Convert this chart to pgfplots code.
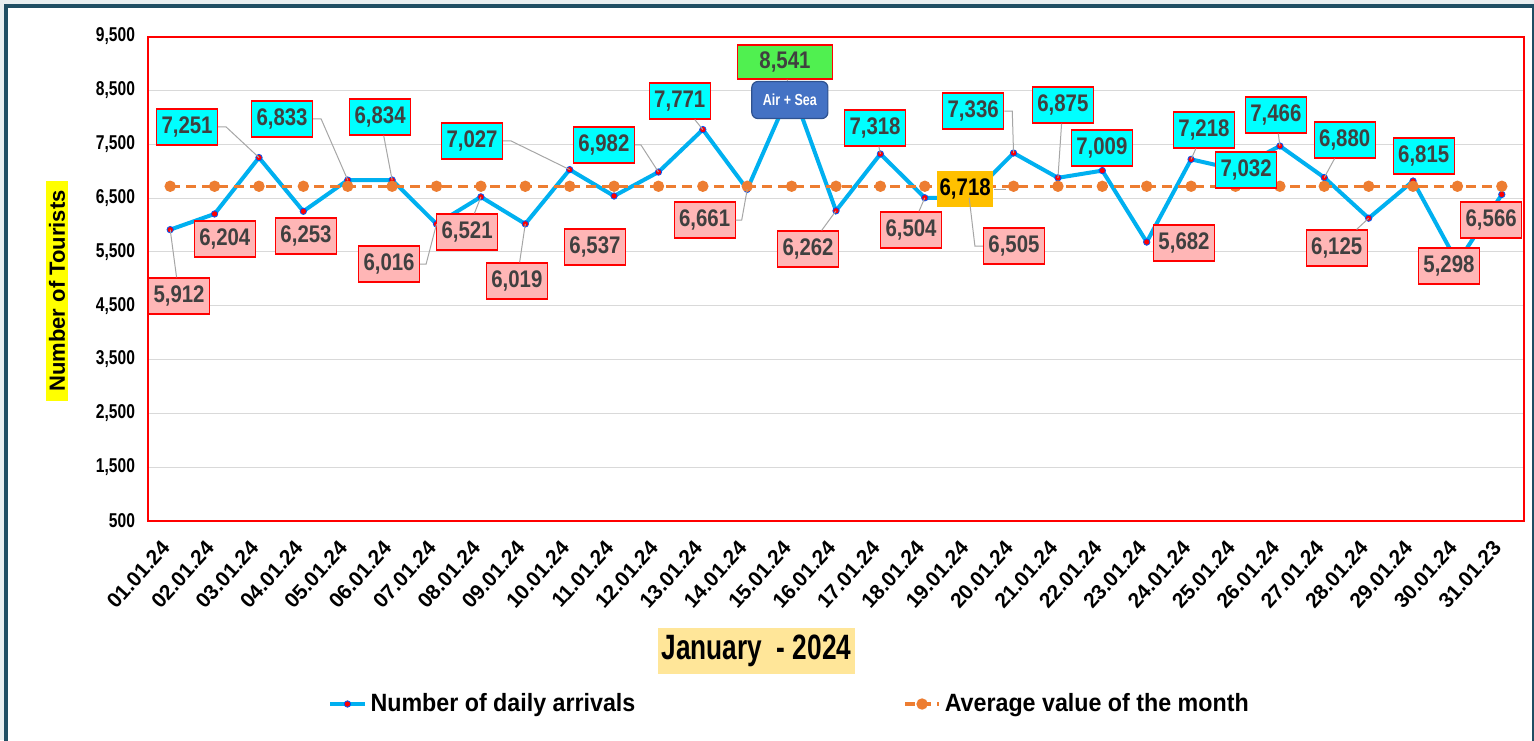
\documentclass[border=0pt]{standalone}
\usepackage{fontspec}
\setmainfont{Liberation Sans}
\newfontfamily\nA{Liberation Sans}[FakeStretch=0.78]
\newfontfamily\nB{Liberation Sans}[FakeStretch=0.85]
\newfontfamily\nC{Liberation Sans}[FakeStretch=0.93]
\newfontfamily\nD{Liberation Sans}[FakeStretch=0.745]
\usepackage{pgfplots}
\pgfplotsset{compat=1.18}

\definecolor{frame}{RGB}{31,78,99}
\definecolor{bgout}{RGB}{232,238,240}
\definecolor{arr}{RGB}{0,176,240}
\definecolor{avgc}{RGB}{237,125,49}
\definecolor{cy}{RGB}{0,255,255}
\definecolor{pk}{RGB}{255,182,182}
\definecolor{gr}{RGB}{80,240,80}
\definecolor{as}{RGB}{68,114,196}
\definecolor{asb}{RGB}{47,82,143}
\definecolor{yl}{RGB}{255,255,0}
\definecolor{ttl}{RGB}{255,230,153}
\definecolor{avglab}{RGB}{255,192,0}
\definecolor{txt}{RGB}{64,64,64}
\definecolor{gridc}{RGB}{217,217,217}
\definecolor{leadc}{RGB}{166,166,166}

\begin{document}
\begin{tikzpicture}[
  lab/.style={draw=red, line width=0.6pt, text=txt, font=\nB\bfseries\fontsize{12}{14}\selectfont,
              minimum width=30.5pt, minimum height=18pt, inner sep=1pt},
  hi/.style={lab, fill=cy},
  lo/.style={lab, fill=pk},
  leader/.style={draw=leadc, line width=0.5pt}
]
\useasboundingbox (0,0) rectangle (767pt,370pt);
\fill[bgout] (0,0) rectangle (767pt,370pt);
\draw[frame, line width=2pt, fill=white] (3pt,-5pt) rectangle (767pt,367pt);

\begin{axis}[
  at={(74pt,109.5pt)}, anchor=south west,
  scale only axis, width=688pt, height=242.25pt,
  xmin=-0.5, xmax=30.5, ymin=500, ymax=9500,
  ytick={500,1500,...,9500},
  xtick={0,...,30},
  xticklabels={01.01.24,02.01.24,03.01.24,04.01.24,05.01.24,06.01.24,07.01.24,08.01.24,09.01.24,10.01.24,11.01.24,12.01.24,13.01.24,14.01.24,15.01.24,16.01.24,17.01.24,18.01.24,19.01.24,20.01.24,21.01.24,22.01.24,23.01.24,24.01.24,25.01.24,26.01.24,27.01.24,28.01.24,29.01.24,30.01.24,31.01.23},
  major tick length=0pt,
  ymajorgrids, grid style={gridc, line width=0.5pt},
  axis line style={red, line width=1pt},
  clip=false,
  scaled y ticks=false,
  yticklabel style={font=\nA\bfseries\fontsize{10}{12}\selectfont, /pgf/number format/assume math mode=true, /pgf/number format/1000 sep={,}, xshift=-3pt},
  xticklabel style={font=\bfseries\fontsize{10.5}{12}\selectfont, rotate=48, anchor=east},
  xticklabel shift=9pt,
  legend style={at={(0.467,-0.3777)}, anchor=center, draw=none, fill=none,
     legend columns=2, font=\nC\bfseries\fontsize{12.5}{14}\selectfont,
     /tikz/column 2/.style={column sep=132pt}},
]
\addplot[arr, line width=2pt, mark=*, mark size=1.6pt, mark options={fill=red, draw=blue!50!arr, line width=0.4pt}] coordinates {
(0,5912) (1,6204) (2,7251) (3,6253) (4,6833) (5,6834) (6,6016) (7,6521) (8,6019) (9,7027)
(10,6537) (11,6982) (12,7771) (13,6661) (14,8541) (15,6262) (16,7318) (17,6504) (18,6505) (19,7336)
(20,6875) (21,7009) (22,5682) (23,7218) (24,7032) (25,7466) (26,6880) (27,6125) (28,6815) (29,5298) (30,6566)};
\addplot[avgc, line width=1.6pt, dash pattern=on 5pt off 3pt, mark=*, mark size=2pt, mark options={solid, fill=avgc, draw=avgc}] coordinates {
(0,6718) (1,6718) (2,6718) (3,6718) (4,6718) (5,6718) (6,6718) (7,6718) (8,6718) (9,6718)
(10,6718) (11,6718) (12,6718) (13,6718) (14,6718) (15,6718) (16,6718) (17,6718) (18,6718) (19,6718)
(20,6718) (21,6718) (22,6718) (23,6718) (24,6718) (25,6718) (26,6718) (27,6718) (28,6718) (29,6718) (30,6718)};
\legend{Number of daily arrivals, Average value of the month}

% label anchor positions
\coordinate (L1) at (axis cs:0.20,4680);
\coordinate (L2) at (axis cs:1.23,5738);
\coordinate (L3) at (axis cs:0.38,7819);
\coordinate (L4) at (axis cs:3.06,5794);
\coordinate (L5) at (axis cs:2.52,7968);
\coordinate (L6) at (axis cs:4.73,8005);
\coordinate (L7) at (axis cs:4.93,5274);
\coordinate (L8) at (axis cs:6.69,5869);
\coordinate (L9) at (axis cs:7.81,4958);
\coordinate (L10) at (axis cs:6.80,7559);
\coordinate (L11) at (axis cs:9.57,5590);
\coordinate (L12) at (axis cs:9.77,7485);
\coordinate (L13) at (axis cs:11.48,8302);
\coordinate (L14) at (axis cs:12.04,6091);
\coordinate (L15) at (axis cs:13.85,9026);
\coordinate (LAIR) at (axis cs:13.96,8320);
\coordinate (L16) at (axis cs:14.37,5553);
\coordinate (L17) at (axis cs:15.88,7800);
\coordinate (L18) at (axis cs:16.69,5906);
\coordinate (LAVG) at (axis cs:17.91,6667);
\coordinate (L19) at (axis cs:19.01,5608);
\coordinate (L20) at (axis cs:18.09,8116);
\coordinate (L21) at (axis cs:20.11,8228);
\coordinate (L22) at (axis cs:20.99,7429);
\coordinate (L23) at (axis cs:22.84,5664);
\coordinate (L24) at (axis cs:23.29,7763);
\coordinate (L25) at (axis cs:24.24,7020);
\coordinate (L26) at (axis cs:24.91,8042);
\coordinate (L27) at (axis cs:26.46,7577);
\coordinate (L28) at (axis cs:26.28,5571);
\coordinate (L29) at (axis cs:28.24,7280);
\coordinate (L30) at (axis cs:28.81,5237);
\coordinate (L31) at (axis cs:29.76,6091);
% data point positions for leader lines
\coordinate (P1) at (axis cs:0,5912);
\coordinate (P3) at (axis cs:2,7251);
\coordinate (P5) at (axis cs:4,6833);
\coordinate (P6) at (axis cs:5,6834);
\coordinate (P7) at (axis cs:6,6016);
\coordinate (P8) at (axis cs:7,6521);
\coordinate (P9) at (axis cs:8,6019);
\coordinate (P10) at (axis cs:9,7027);
\coordinate (P12) at (axis cs:11,6982);
\coordinate (P13) at (axis cs:12,7771);
\coordinate (P14) at (axis cs:13,6661);
\coordinate (P16) at (axis cs:15,6262);
\coordinate (P17) at (axis cs:16,7318);
\coordinate (P18) at (axis cs:17,6504);
\coordinate (P19) at (axis cs:18,6505);
\coordinate (P20) at (axis cs:19,7336);
\coordinate (P21) at (axis cs:20,6875);
\coordinate (P24) at (axis cs:23,7218);
\coordinate (P26) at (axis cs:25,7466);
\coordinate (P27) at (axis cs:26,6880);
\coordinate (P28) at (axis cs:27,6125);
\end{axis}

\node[lo] (l1) at (L1) {5,912};
\node[lo] (l2) at (L2) {6,204};
\node[hi] (l3) at (L3) {7,251};
\node[lo] (l4) at (L4) {6,253};
\node[hi] (l5) at (L5) {6,833};
\node[hi] (l6) at (L6) {6,834};
\node[lo] (l7) at (L7) {6,016};
\node[lo] (l8) at (L8) {6,521};
\node[lo] (l9) at (L9) {6,019};
\node[hi] (l10) at (L10) {7,027};
\node[lo] (l11) at (L11) {6,537};
\node[hi] (l12) at (L12) {6,982};
\node[hi] (l13) at (L13) {7,771};
\node[lo] (l14) at (L14) {6,661};
\node[lab, fill=gr, minimum width=47.5pt, minimum height=17pt] (l15) at (L15) {8,541};
\node[fill=as, draw=asb, line width=0.6pt, rounded corners=3pt, text=white, font=\nA\bfseries\fontsize{8}{10}\selectfont, minimum width=38pt, minimum height=18.5pt, inner sep=1pt] (air) at (LAIR) {Air + Sea};
\node[lo] (l16) at (L16) {6,262};
\node[hi] (l17) at (L17) {7,318};
\node[lo] (l18) at (L18) {6,504};
\node[fill=avglab, text=black, font=\nB\bfseries\fontsize{12}{14}\selectfont, minimum width=28pt, minimum height=18pt, inner sep=1pt] (avgl) at (LAVG) {6,718};
\node[lo] (l19) at (L19) {6,505};
\node[hi] (l20) at (L20) {7,336};
\node[hi] (l21) at (L21) {6,875};
\node[hi] (l22) at (L22) {7,009};
\node[lo] (l23) at (L23) {5,682};
\node[hi] (l24) at (L24) {7,218};
\node[hi] (l25) at (L25) {7,032};
\node[hi] (l26) at (L26) {7,466};
\node[hi] (l27) at (L27) {6,880};
\node[lo] (l28) at (L28) {6,125};
\node[hi] (l29) at (L29) {6,815};
\node[lo] (l30) at (L30) {5,298};
\node[lo] (l31) at (L31) {6,566};

\draw[leader] (P1) -- (l1);
\draw[leader] (P3) -- ([xshift=4pt]l3.east) -- (l3.east);
\draw[leader] (P5) -- ([xshift=4pt]l5.east) -- (l5.east);
\draw[leader] (P6) -- (l6);
\draw[leader] (P7) -- ([xshift=3pt]l7.east) -- (l7.east);
\draw[leader] (P8) -- (l8);
\draw[leader] (P9) -- (l9);
\draw[leader] (P10) -- ([xshift=4pt]l10.east) -- (l10.east);
\draw[leader] (P12) -- ([xshift=3pt]l12.east) -- (l12.east);
\draw[leader] (P13) -- (l13);
\draw[leader] (P14) -- ([xshift=3pt]l14.east) -- (l14.east);
\draw[leader] (l15) -- (air);
\draw[leader] (P16) -- (l16);
\draw[leader] (P17) -- (l17);
\draw[leader] (P18) -- (l18);
\draw[leader] (P19) -- ([xshift=-4pt]l19.west) -- (l19.west);
\draw[leader] (P20) -- ([xshift=4pt]l20.east) -- (l20.east);
\draw[leader] (P21) -- (l21);
\draw[leader] (P24) -- (l24);
\draw[leader] (P26) -- (l26);
\draw[leader] (P27) -- (l27);
\draw[leader] (P28) -- (l28);
\draw[leader] (avgl.east) -- ([xshift=6pt]avgl.east);

\node[fill=yl, rotate=90, inner xsep=4.5pt, inner ysep=1.5pt, font=\bfseries\fontsize{11}{13}\selectfont] at (28.5pt,224.5pt) {Number of Tourists};
\node[fill=ttl, inner xsep=2pt, minimum height=21pt, font=\nD\bfseries\fontsize{17.6}{20}\selectfont] at (378.25pt,44.5pt) {January\ \ - 2024};
\end{tikzpicture}
\end{document}
